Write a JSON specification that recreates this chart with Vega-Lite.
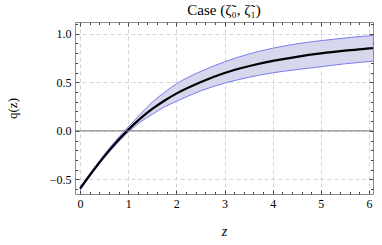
{
  "$schema": "https://vega.github.io/schema/vega-lite/v6.json",
  "width": 298,
  "height": 172,
  "autosize": {"type": "none"},
  "padding": {"left": 75, "top": 22, "right": 9, "bottom": 51},
  "background": "white",
  "config": {
    "view": {"stroke": "#8c8c8c", "strokeWidth": 1},
    "font": "Liberation Serif",
    "axis": {
      "domain": false,
      "labelFont": "Liberation Serif",
      "labelFontSize": 12,
      "labelColor": "black",
      "titleFont": "Liberation Serif",
      "titleFontWeight": "normal",
      "titleColor": "black",
      "tickColor": "#444444",
      "tickWidth": 1,
      "gridColor": "#d4d4d4",
      "gridDash": [4, 3],
      "gridWidth": 1
    }
  },
  "title": {
    "text": "Case  (ζ̃₀, ζ̃₁)",
    "font": "Liberation Serif",
    "fontSize": 15,
    "fontWeight": "normal",
    "color": "black",
    "frame": "group",
    "anchor": "middle",
    "offset": 4
  },
  "data": {
    "values": [
      {"z": 0.0, "lower": -0.61, "center": -0.595, "upper": -0.58},
      {"z": 0.25, "lower": -0.44, "center": -0.425, "upper": -0.409},
      {"z": 0.5, "lower": -0.28, "center": -0.265, "upper": -0.245},
      {"z": 0.75, "lower": -0.14, "center": -0.12, "upper": -0.095},
      {"z": 1.0, "lower": -0.015, "center": 0.01, "upper": 0.04},
      {"z": 1.25, "lower": 0.09, "center": 0.125, "upper": 0.17},
      {"z": 1.5, "lower": 0.17, "center": 0.225, "upper": 0.295},
      {"z": 1.75, "lower": 0.245, "center": 0.31, "upper": 0.395},
      {"z": 2.0, "lower": 0.303, "center": 0.383, "upper": 0.483},
      {"z": 2.5, "lower": 0.41, "center": 0.5, "upper": 0.61},
      {"z": 3.0, "lower": 0.49, "center": 0.595, "upper": 0.71},
      {"z": 3.5, "lower": 0.55, "center": 0.665, "upper": 0.79},
      {"z": 4.0, "lower": 0.597, "center": 0.72, "upper": 0.85},
      {"z": 4.5, "lower": 0.63, "center": 0.762, "upper": 0.895},
      {"z": 5.0, "lower": 0.66, "center": 0.797, "upper": 0.928},
      {"z": 5.5, "lower": 0.69, "center": 0.825, "upper": 0.955},
      {"z": 6.0, "lower": 0.713, "center": 0.848, "upper": 0.978},
      {"z": 6.083, "lower": 0.717, "center": 0.852, "upper": 0.981}
    ]
  },
  "resolve": {"axis": {"x": "independent", "y": "independent"}},
  "layer": [
    {
      "mark": {"type": "area", "color": "#d6d6ec", "opacity": 1, "interpolate": "monotone"},
      "encoding": {
        "x": {
          "field": "z", "type": "quantitative",
          "scale": {"domain": [-0.104, 6.083], "nice": false, "zero": false},
          "axis": {
            "orient": "bottom", "title": "z", "titleFontStyle": "italic", "titleFontSize": 14,
            "titlePadding": 15, "values": [0, 1, 2, 3, 4, 5, 6], "format": "d",
            "tickSize": -4, "labelPadding": 8, "grid": true, "zindex": 0
          }
        },
        "y": {
          "field": "lower", "type": "quantitative",
          "scale": {"domain": [-0.65, 1.12], "nice": false, "zero": false},
          "axis": {
            "orient": "left", "title": "q(z)", "titleFontSize": 13, "titlePadding": 30,
            "values": [-0.5, 0, 0.5, 1.0], "format": ".1f",
            "tickSize": -4, "labelPadding": 8, "grid": true, "zindex": 0
          }
        },
        "y2": {"field": "upper"}
      }
    },
    {
      "mark": {"type": "line", "color": "#7b7bf0", "strokeWidth": 1, "interpolate": "monotone"},
      "encoding": {
        "x": {
          "field": "z", "type": "quantitative",
          "scale": {"domain": [-0.104, 6.083], "nice": false, "zero": false},
          "axis": {
            "orient": "bottom", "title": null, "labels": false, "grid": false, "tickSize": -2.5,
            "values": [0.2, 0.4, 0.6, 0.8, 1.2, 1.4, 1.6, 1.8, 2.2, 2.4, 2.6, 2.8, 3.2, 3.4, 3.6, 3.8, 4.2, 4.4, 4.6, 4.8, 5.2, 5.4, 5.6, 5.8]
          }
        },
        "y": {
          "field": "upper", "type": "quantitative",
          "scale": {"domain": [-0.65, 1.12], "nice": false, "zero": false},
          "axis": {
            "orient": "left", "title": null, "labels": false, "grid": false, "tickSize": -2.5,
            "values": [-0.6, -0.4, -0.3, -0.2, -0.1, 0.1, 0.2, 0.3, 0.4, 0.6, 0.7, 0.8, 0.9, 1.1]
          }
        }
      }
    },
    {
      "mark": {"type": "line", "color": "#7b7bf0", "strokeWidth": 1, "interpolate": "monotone"},
      "encoding": {
        "x": {
          "field": "z", "type": "quantitative",
          "scale": {"domain": [-0.104, 6.083], "nice": false, "zero": false},
          "axis": {
            "orient": "top", "title": null, "labels": false, "grid": false, "tickSize": -4,
            "values": [0, 1, 2, 3, 4, 5, 6]
          }
        },
        "y": {
          "field": "lower", "type": "quantitative",
          "scale": {"domain": [-0.65, 1.12], "nice": false, "zero": false},
          "axis": {
            "orient": "right", "title": null, "labels": false, "grid": false, "tickSize": -4,
            "values": [-0.5, 0, 0.5, 1.0]
          }
        }
      }
    },
    {
      "mark": {"type": "line", "color": "black", "strokeWidth": 2.2, "interpolate": "monotone"},
      "encoding": {
        "x": {
          "field": "z", "type": "quantitative",
          "scale": {"domain": [-0.104, 6.083], "nice": false, "zero": false},
          "axis": {
            "orient": "top", "title": null, "labels": false, "grid": false, "tickSize": -2.5,
            "values": [0.2, 0.4, 0.6, 0.8, 1.2, 1.4, 1.6, 1.8, 2.2, 2.4, 2.6, 2.8, 3.2, 3.4, 3.6, 3.8, 4.2, 4.4, 4.6, 4.8, 5.2, 5.4, 5.6, 5.8]
          }
        },
        "y": {
          "field": "center", "type": "quantitative",
          "scale": {"domain": [-0.65, 1.12], "nice": false, "zero": false},
          "axis": {
            "orient": "right", "title": null, "labels": false, "grid": false, "tickSize": -2.5,
            "values": [-0.6, -0.4, -0.3, -0.2, -0.1, 0.1, 0.2, 0.3, 0.4, 0.6, 0.7, 0.8, 0.9, 1.1]
          }
        }
      }
    },
    {
      "data": {"values": [{"ref": "zero"}]},
      "mark": {"type": "rule", "color": "#777777", "strokeWidth": 1},
      "encoding": {
        "y": {
          "datum": 0, "type": "quantitative",
          "scale": {"domain": [-0.65, 1.12], "nice": false, "zero": false},
          "axis": null
        }
      }
    }
  ]
}
